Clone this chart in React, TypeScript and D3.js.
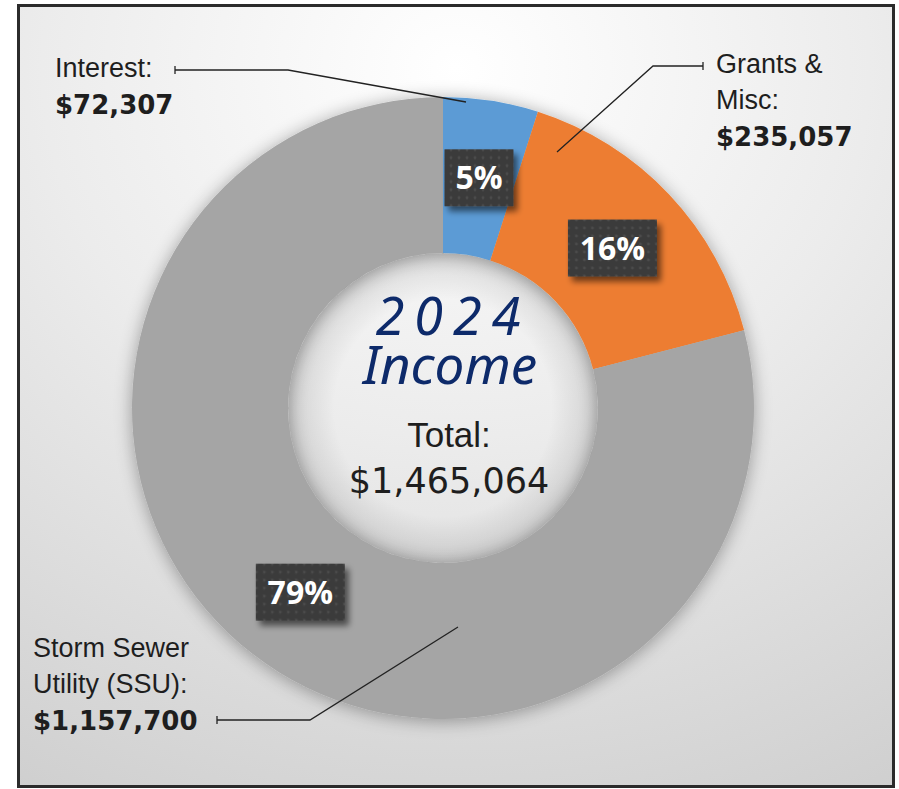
import React from "react";
import * as d3 from "d3";

// income 2024
const categories = ["Interest", "Grants & Misc", "Storm Sewer Utility (SSU)"];
const amounts = [72307, 235057, 1157700];
const colors = ["#5B9BD5", "#ED7D31", "#A5A5A5"];
const labelLines = [["Interest:"], ["Grants &", "Misc:"], ["Storm Sewer", "Utility (SSU):"]];
const title = ["2024", "Income"];

const W = 899;
const H = 789;
const cx = 443;
const cy = 408;
const rOuter = 311;
const rInner = 155;

// label layout: text position, leader line (tick end, elbow, anchor on slice)
const labelLayout = [
  { x: 55, y: 77, line: [[175, 70], [288, 70], [466, 102]] },
  { x: 716, y: 73, line: [[703, 66], [653, 66], [557, 152]] },
  { x: 33, y: 657, line: [[217, 720], [310, 720], [458, 627]] },
];

const fmtMoney = d3.format("$,");
const fmtPct = d3.format(".0%");

export default function App() {
  const total = d3.sum(amounts);
  const pie = d3.pie<number>().sort(null).value((d) => d);
  const arcs = pie(amounts);
  const arc = d3.arc<d3.PieArcDatum<number>>().innerRadius(rInner).outerRadius(rOuter);

  return (
    <svg width={W} height={H} style={{ position: "absolute", left: 0, top: 0 }}>
      <defs>
        <radialGradient id="bg" cx="50%" cy="8%" r="105%">
          <stop offset="0%" stopColor="#ffffff" />
          <stop offset="45%" stopColor="#ececec" />
          <stop offset="100%" stopColor="#cfcfcf" />
        </radialGradient>
        <radialGradient id="hole" cx="50%" cy="50%" r="50%">
          <stop offset="70%" stopColor="#000" stopOpacity={0} />
          <stop offset="100%" stopColor="#000" stopOpacity={0.12} />
        </radialGradient>
        <filter id="donutShadow" x="-20%" y="-20%" width="140%" height="140%">
          <feGaussianBlur in="SourceAlpha" stdDeviation="9" />
          <feOffset dx="0" dy="2" result="b" />
          <feComponentTransfer>
            <feFuncA type="linear" slope="0.35" />
          </feComponentTransfer>
          <feMerge>
            <feMergeNode />
            <feMergeNode in="SourceGraphic" />
          </feMerge>
        </filter>
        <filter id="boxShadow" x="-30%" y="-30%" width="170%" height="170%">
          <feGaussianBlur in="SourceAlpha" stdDeviation="3" />
          <feOffset dx="4" dy="5" />
          <feComponentTransfer>
            <feFuncA type="linear" slope="0.55" />
          </feComponentTransfer>
          <feMerge>
            <feMergeNode />
            <feMergeNode in="SourceGraphic" />
          </feMerge>
        </filter>
        <pattern id="dots" width="8" height="8" patternUnits="userSpaceOnUse">
          <rect width="8" height="8" fill="#3b3b3b" />
          <circle cx="4" cy="4" r="1.4" fill="#4b4b4b" />
        </pattern>
      </defs>

      <rect x={18.5} y={5.5} width={875} height={781} fill="url(#bg)" stroke="#2b2b2b" strokeWidth={3} />

      <g transform={`translate(${cx},${cy})`}>
        <g filter="url(#donutShadow)">
          {arcs.map((a, i) => (
            <path key={categories[i]} d={arc(a) || ""} fill={colors[i]} />
          ))}
        </g>
        <circle r={rInner} fill="url(#hole)" />
      </g>

      {labelLayout.map((l, i) => (
        <g key={"lead" + i}>
          <polyline points={l.line.map((p) => p.join(",")).join(" ")} fill="none" stroke="#222" strokeWidth={1.3} />
          <line x1={l.line[0][0]} x2={l.line[0][0]} y1={l.line[0][1] - 4} y2={l.line[0][1] + 4} stroke="#222" strokeWidth={1.3} />
        </g>
      ))}

      {arcs.map((a, i) => {
        const [px, py] = arc.centroid(a);
        const t = fmtPct(amounts[i] / total);
        const bw = 29 + 20 * t.length;
        const bh = 57;
        return (
          <g key={"pct" + i} transform={`translate(${cx + px},${cy + py})`}>
            <rect x={-bw / 2} y={-bh / 2} width={bw} height={bh} fill="url(#dots)" filter="url(#boxShadow)" />
            <text
              y={11.5}
              textAnchor="middle"
              fill="#ffffff"
              fontFamily="'Open Sans', sans-serif"
              fontWeight={700}
              fontSize={32}
            >
              {t}
            </text>
          </g>
        );
      })}

      {labelLayout.map((l, i) => (
        <g key={"lab" + i}>
          {labelLines[i].map((s, j) => (
            <text
              key={s}
              x={l.x}
              y={l.y + j * 35.5}
              fill="#1e1e1e"
              fontFamily="'Liberation Sans', Arial, sans-serif"
              fontSize={27}
            >
              {s}
            </text>
          ))}
          <text
            x={l.x}
            y={l.y + labelLines[i].length * 36.5}
            fill="#1e1e1e"
            fontFamily="'DejaVu Sans', sans-serif"
            fontWeight={700}
            fontSize={26}
          >
            {fmtMoney(amounts[i])}
          </text>
        </g>
      ))}

      <g fontStyle="italic" fill="#0d2a6a" fontFamily="'Noto Sans', sans-serif" textAnchor="middle">
        <text x={453} y={335} fontSize={52} letterSpacing={10}>
          {title[0]}
        </text>
        <text x={450} y={384} fontSize={53} letterSpacing={0}>
          {title[1]}
        </text>
      </g>
      <text x={449} y={447} textAnchor="middle" fill="#1e1e1e" fontFamily="'Liberation Sans', Arial, sans-serif" fontSize={35}>
        Total:
      </text>
      <text x={449} y={493} textAnchor="middle" fill="#1e1e1e" fontFamily="'DejaVu Sans', sans-serif" fontSize={35}>
        {fmtMoney(total)}
      </text>
    </svg>
  );
}
